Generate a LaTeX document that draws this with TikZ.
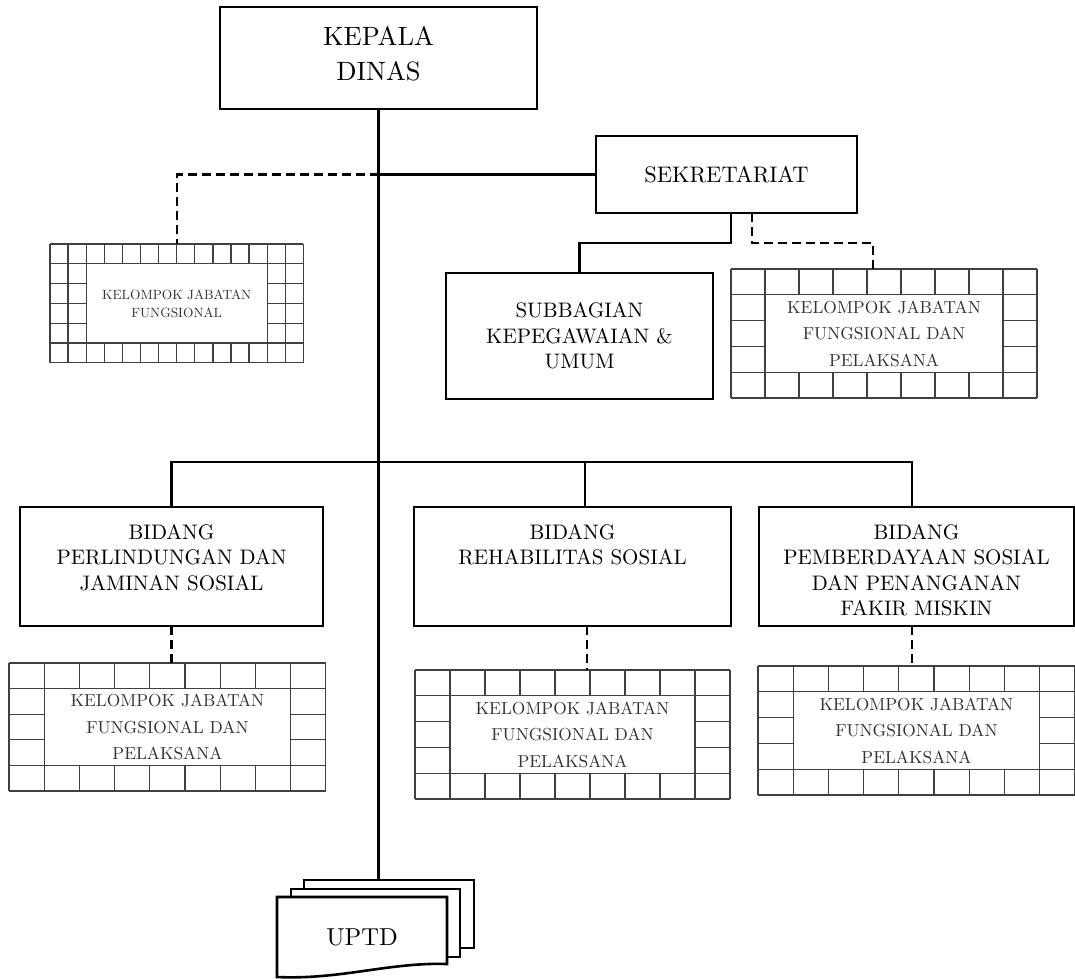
\documentclass[tikz,border=0pt]{standalone}
\usepackage{fontspec}
\setmainfont{lmroman10-regular.otf}
\usepackage{tikz}
\usetikzlibrary{calc}
\tikzstyle{boite}      =[draw, line width=2.6pt, inner sep=0pt, outer sep=0pt]
\tikzstyle{lien}       =[line width=2.2pt]
\tikzstyle{pointille}  =[line width=2.2pt, dash pattern=on 9pt off 5pt]
\tikzstyle{case}       =[line width=1.3pt, black!75]
\tikzstyle{texte}      =[align=center, inner sep=0pt, font=\fontsize{21}{25.5}\selectfont]
\tikzstyle{textegrille}=[align=center, inner sep=0pt, text=black!80, font=\fontsize{17.4}{26.5}\selectfont]

%boîte quadrillée : #1 nom, #2 x, #3 y, #4 colonnes, #5 lignes,
%#6 largeur case, #7 hauteur case, #8 bord, #9 texte
\newcommand{\grille}[9]{%
  \foreach \i in {0,...,#4} \draw[case] ({#2+\i*#6},#3) -- ++(0,{#5*#7});
  \foreach \j in {0,...,#5} \draw[case] (#2,{#3+\j*#7}) -- ++({#4*#6},0);
  \fill[white] ({#2+#8*#6},{#3+#7}) rectangle ({#2+(#4-#8)*#6},{#3+(#5-1)*#7});
  \draw[case] ({#2+#8*#6},{#3+#7}) rectangle ({#2+(#4-#8)*#6},{#3+(#5-1)*#7});
  \node[inner sep=0pt, outer sep=0pt, minimum width={#4*#6}, minimum height={#5*#7}, anchor=north west] (#1) at (#2,#3) {};
  \node[textegrille] (#1-texte) at (#1.center) {#9};
}

\begin{document}
\begin{tikzpicture}[x=1pt,y=-1pt]

\useasboundingbox (0,0) rectangle (1075,978);

%%%%%%%%%%%%%%%%%%%%%%%%
%les boîtes
%%%%%%%%%%%%%%%%%%%%%%%%
\node[boite, minimum width=317, minimum height=102, anchor=north west] (kepala) at (220,7) {};
\node[texte, font=\fontsize{26.5}{35}\selectfont] (kepala-texte) at ([yshift=4.5pt]kepala.center) {KEPALA\\DINAS};
\node[boite, texte, font=\fontsize{22.5}{27}\selectfont, minimum width=261, minimum height=77, anchor=north west] (sekretariat) at (596,136) {SEKRETARIAT};
\node[boite, texte, minimum width=267, minimum height=126, anchor=north west] (subbagian) at (446,273) {SUBBAGIAN\\KEPEGAWAIAN \&\\UMUM};

\node[boite, minimum width=303, minimum height=119, anchor=north west] (bidang1) at (20,507) {};
\node[boite, minimum width=317, minimum height=119, anchor=north west] (bidang2) at (414,507) {};
\node[boite, minimum width=315, minimum height=119, anchor=north west] (bidang3) at (759,507) {};
\node[texte, anchor=north] (bidang1-texte) at ([yshift=-17pt]bidang1.north) {BIDANG\\PERLINDUNGAN DAN\\JAMINAN SOSIAL};
\node[texte, anchor=north] (bidang2-texte) at ([yshift=-17pt]bidang2.north) {BIDANG\\REHABILITAS SOSIAL};
\node[texte, anchor=north] (bidang3-texte) at ([yshift=-17pt]bidang3.north) {BIDANG\\PEMBERDAYAAN SOSIAL\\DAN PENANGANAN\\FAKIR MISKIN};

%les boîtes quadrillées
\begin{scope}[textegrille/.append style={font=\fontsize{13.4}{18}\selectfont}]
\grille{kjf}{50}{244}{14}{6}{18.1}{19.8}{2}{KELOMPOK JABATAN\\FUNGSIONAL}
\end{scope}
\grille{kjfsek}{731}{269}{9}{5}{34}{25.8}{1}{KELOMPOK JABATAN\\FUNGSIONAL DAN\\PELAKSANA}
\grille{kjf1}{9}{663}{9}{5}{35.2}{25.6}{1}{KELOMPOK JABATAN\\FUNGSIONAL DAN\\PELAKSANA}
\grille{kjf2}{415}{670}{9}{5}{35}{25.8}{1}{KELOMPOK JABATAN\\FUNGSIONAL DAN\\PELAKSANA}
\grille{kjf3}{758}{666}{9}{5}{35.2}{25.8}{1}{KELOMPOK JABATAN\\FUNGSIONAL DAN\\PELAKSANA}

%l'UPTD (trois feuilles)
\node[boite, fill=white, minimum width=170, minimum height=68, anchor=north west] (page3) at (304,880) {};
\node[boite, fill=white, minimum width=169, minimum height=68, anchor=north west] (page2) at (291,889) {};
\draw[line width=2.6pt, fill=white] (277,897) -- (447,897) -- (447,964) .. controls (390,962) and (340,980) .. (277,977) -- cycle;
\node[texte, font=\fontsize{24.5}{29}\selectfont] (uptd) at (362,937) {UPTD};

%%%%%%%%%%%%%%%%%%%%%%%%
%les liens
%%%%%%%%%%%%%%%%%%%%%%%%
\draw[lien] (kepala.south) -- (kepala.south |- page3.north);
\coordinate (noeud) at (kepala.south |- sekretariat.west);
\draw[lien] (noeud) -- (sekretariat.west);
\draw[pointille] (noeud) -| (kjf.north);

\draw[lien] ([xshift=4.5pt]sekretariat.south) -- ++(0,30) -| (subbagian.north);
\draw[pointille] ([xshift=25.5pt]sekretariat.south) -- ++(0,30) -| ([xshift=-11pt]kjfsek.north);

\draw[lien] (bidang1.north) -- ++(0,-45) -| ([xshift=-4.5pt]bidang3.north);
\draw[lien] ([xshift=12.5pt]bidang2.north) -- ++(0,-45);

\draw[pointille] (bidang1.south) -- (bidang1.south |- kjf1.north);
\draw[pointille] ([xshift=14.5pt]bidang2.south) -- ([xshift=14.5pt]bidang2.south |- kjf2.north);
\draw[pointille] ([xshift=-4.5pt]bidang3.south) -- ([xshift=-4.5pt]bidang3.south |- kjf3.north);

\end{tikzpicture}
\end{document}
